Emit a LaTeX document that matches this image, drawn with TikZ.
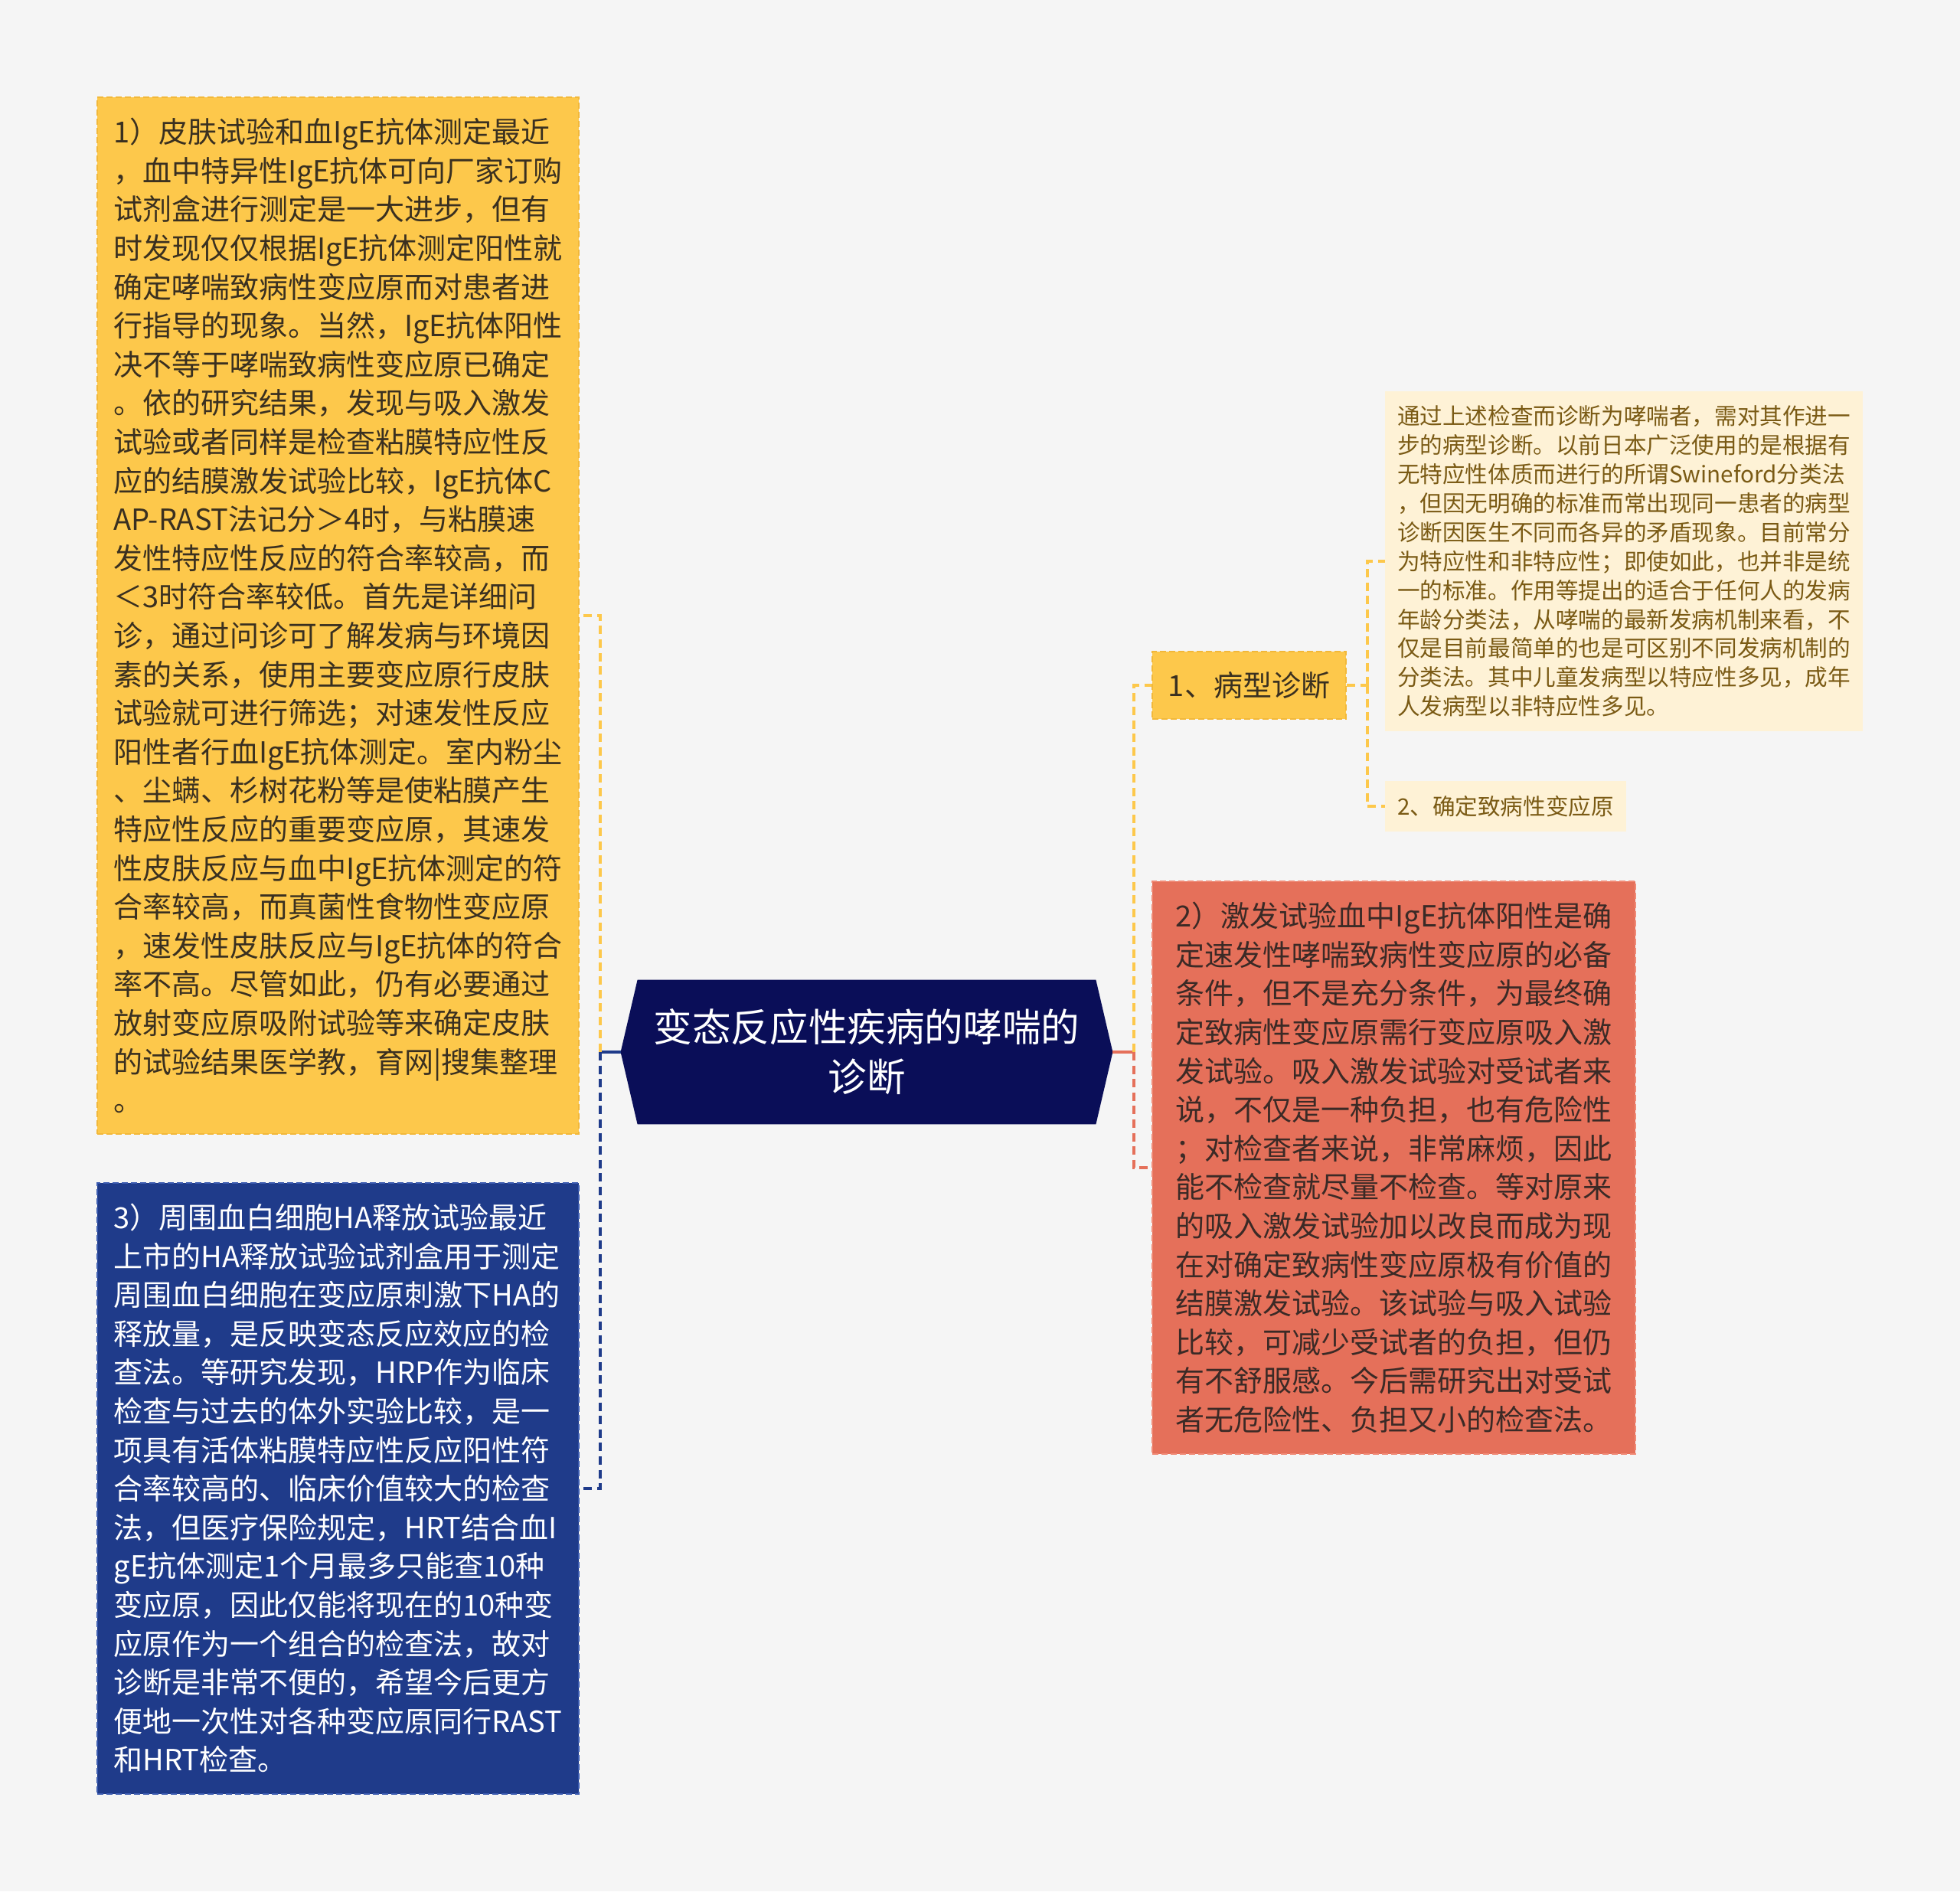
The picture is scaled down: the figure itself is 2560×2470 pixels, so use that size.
\documentclass[tikz,border=0pt]{standalone}
\usepackage{fontspec}
\setmainfont{Noto Sans CJK SC}
\usetikzlibrary{backgrounds,positioning}
\definecolor{bgcol}{HTML}{F5F5F5}
\definecolor{rootcol}{HTML}{0A0E58}
\definecolor{ycol}{HTML}{FDC84B}
\definecolor{yedge}{HTML}{F2B83A}
\definecolor{ytext}{HTML}{3A3020}
\definecolor{bcol}{HTML}{1F3B8A}
\definecolor{bedge}{HTML}{3B5BB0}
\definecolor{rcol}{HTML}{E5705A}
\definecolor{redge}{HTML}{F08A76}
\definecolor{rtext}{HTML}{3B2A26}
\definecolor{ccol}{HTML}{FEF2D6}
\definecolor{ctext}{HTML}{7A5A14}

\begin{document}
\begin{tikzpicture}[x=0.5pt,y=-0.5pt,
  rnode/.style={minimum width=321pt,minimum height=94pt,inner sep=0pt,align=center,text=white,font=\fontsize{25.3}{32.5}\selectfont},
  bnode/.style={draw,line width=1pt,dash pattern=on 4pt off 2pt,inner sep=0pt,align=left,font=\fontsize{19}{25.3}\selectfont},
  cnode/.style={fill=ccol,inner sep=0pt,align=left,text=ctext,font=\fontsize{14.8}{18.95}\selectfont},
  link/.style={line width=1.7pt,dash pattern=on 5.5pt off 3.3pt}]
    \useasboundingbox (0,0) rectangle (2560,2470);

    \node[rnode] (root) at (1132,1374) {变态反应性疾病的哮喘的\\诊断};

    \node[bnode,fill=ycol,draw=yedge,text=ytext,minimum width=314.5pt,minimum height=677pt] (skin) at (441.5,804)
      {1）皮肤试验和血IgE抗体测定最近\\，血中特异性IgE抗体可向厂家订购\\试剂盒进行测定是一大进步，但有\\时发现仅仅根据IgE抗体测定阳性就\\确定哮喘致病性变应原而对患者进\\行指导的现象。当然，IgE抗体阳性\\决不等于哮喘致病性变应原已确定\\。依的研究结果，发现与吸入激发\\试验或者同样是检查粘膜特应性反\\应的结膜激发试验比较，IgE抗体C\\AP-RAST法记分＞4时，与粘膜速\\发性特应性反应的符合率较高，而\\＜3时符合率较低。首先是详细问\\诊，通过问诊可了解发病与环境因\\素的关系，使用主要变应原行皮肤\\试验就可进行筛选；对速发性反应\\阳性者行血IgE抗体测定。室内粉尘\\、尘螨、杉树花粉等是使粘膜产生\\特应性反应的重要变应原，其速发\\性皮肤反应与血中IgE抗体测定的符\\合率较高，而真菌性食物性变应原\\，速发性皮肤反应与IgE抗体的符合\\率不高。尽管如此，仍有必要通过\\放射变应原吸附试验等来确定皮肤\\的试验结果医学教，育网|搜集整理\\。};

    \node[bnode,fill=bcol,draw=bedge,text=white,minimum width=314.5pt,minimum height=399pt] (hra) at (441.5,1944)
      {3）周围血白细胞HA释放试验最近\\上市的HA释放试验试剂盒用于测定\\周围血白细胞在变应原刺激下HA的\\释放量，是反映变态反应效应的检\\查法。等研究发现，HRP作为临床\\检查与过去的体外实验比较，是一\\项具有活体粘膜特应性反应阳性符\\合率较高的、临床价值较大的检查\\法，但医疗保险规定，HRT结合血I\\gE抗体测定1个月最多只能查10种\\变应原，因此仅能将现在的10种变\\应原作为一个组合的检查法，故对\\诊断是非常不便的，希望今后更方\\便地一次性对各种变应原同行RAST\\和HRT检查。};

    \node[bnode,fill=rcol,draw=redge,text=rtext,minimum width=315.5pt,minimum height=374pt] (prov) at (1820.5,1525)
      {2）激发试验血中IgE抗体阳性是确\\定速发性哮喘致病性变应原的必备\\条件，但不是充分条件，为最终确\\定致病性变应原需行变应原吸入激\\发试验。吸入激发试验对受试者来\\说，不仅是一种负担，也有危险性\\；对检查者来说，非常麻烦，因此\\能不检查就尽量不检查。等对原来\\的吸入激发试验加以改良而成为现\\在对确定致病性变应原极有价值的\\结膜激发试验。该试验与吸入试验\\比较，可减少受试者的负担，但仍\\有不舒服感。今后需研究出对受试\\者无危险性、负担又小的检查法。};

    \node[bnode,fill=ycol,draw=yedge,text=ytext,minimum width=126.5pt,minimum height=44pt] (type) at (1631.5,895) {1、病型诊断};

    \node[cnode,minimum width=312pt,minimum height=222pt] (typetext) at (2121,733)
      {通过上述检查而诊断为哮喘者，需对其作进一\\步的病型诊断。以前日本广泛使用的是根据有\\无特应性体质而进行的所谓Swineford分类法\\，但因无明确的标准而常出现同一患者的病型\\诊断因医生不同而各异的矛盾现象。目前常分\\为特应性和非特应性；即使如此，也并非是统\\一的标准。作用等提出的适合于任何人的发病\\年龄分类法，从哮喘的最新发病机制来看，不\\仅是目前最简单的也是可区别不同发病机制的\\分类法。其中儿童发病型以特应性多见，成年\\人发病型以非特应性多见。};
    \node[cnode,minimum width=157.5pt,minimum height=33pt] (allergen) at (1966.5,1053) {2、确定致病性变应原};

    \coordinate (lj) at (784,1374);
    \coordinate (rj) at (1481,1374);
    \coordinate (tj) at (1786,895);

    \begin{scope}[on background layer]
    \fill[bgcol] (0,0) rectangle (2560,2470);
    \fill[rootcol] ([xshift=11pt]root.north west) -- ([xshift=-11pt]root.north east) -- (root.east)
      -- ([xshift=-11pt]root.south east) -- ([xshift=11pt]root.south west) -- (root.west) -- cycle;
    \end{scope}

    \draw[line width=1.7pt,bcol] (root.west) -- (lj);
    \draw[line width=1.7pt,rcol] (root.east) -- (rj);
    \draw[link,ycol] (lj) |- (skin.east);
    \draw[link,bcol] (lj) |- (hra.east);
    \draw[link,ycol] (rj) |- (type.west);
    \draw[link,rcol] (rj) |- (prov.west);
    \draw[link,ycol] (type.east) -- (tj);
    \draw[link,ycol] (tj) |- (typetext.west);
    \draw[link,ycol] (tj) |- (allergen.west);
\end{tikzpicture}
\end{document}
